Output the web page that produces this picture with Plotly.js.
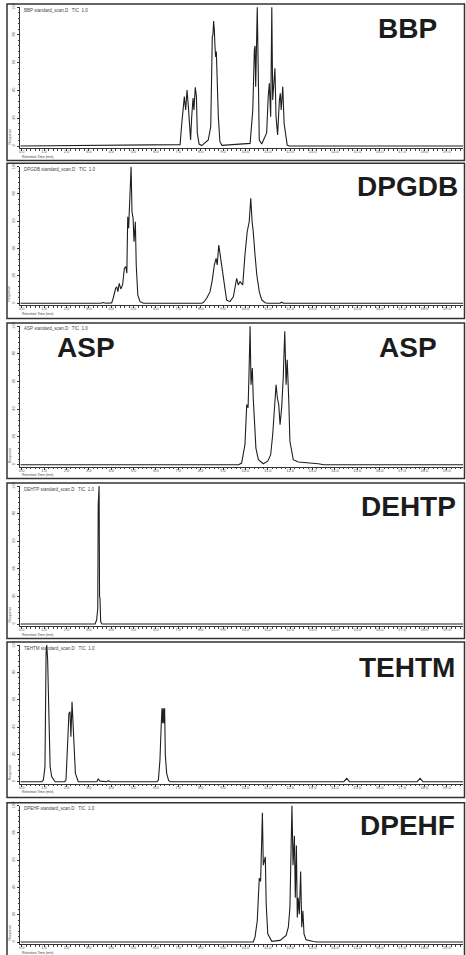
<!DOCTYPE html>
<html>
<head>
<meta charset="utf-8">
<script src="https://cdn.plot.ly/plotly-3.0.1.min.js"></script>
<style>
  html, body { margin: 0; padding: 0; background: #fff; }
  #chart { width: 466px; height: 955px; }
</style>
</head>
<body>
<div id="chart"></div>
<script>
// Six stacked chromatograms, one per plasticizer standard.
// x: retention time (axis units), y: relative response (% of tallest peak).

const names = ["BBP", "DPGDB", "ASP", "DEHTP", "TEHTM", "DPEHF"];
const headers = [
  "BBP standard_scan.D   TIC  1.0",
  "DPGDB standard_scan.D   TIC  1.0",
  "ASP standard_scan.D   TIC  1.0",
  "DEHTP standard_scan.D   TIC  1.0",
  "TEHTM standard_scan.D   TIC  1.0",
  "DPEHF standard_scan.D   TIC  1.0"
];
const tickLabels = ["0.0","1.0","2.0","3.0","4.0","5.0","6.0","7.0","8.0","9.0",
                    "10.0","11.0","12.0","13.0","14.0","15.0","16.0","17.0","18.0","19.0"];

const bbpX = [-0.05, 7.08, 7.15, 7.27, 7.33, 7.39, 7.45, 7.52, 7.55, 7.60, 7.66, 7.70, 7.76, 7.81, 7.85, 7.93, 8.05,
  8.34, 8.45, 8.52, 8.55, 8.58, 8.61, 8.64, 8.67, 8.70, 8.72, 8.75, 8.79, 8.86, 8.95,
  10.21, 10.33, 10.40, 10.43, 10.46, 10.49, 10.53, 10.58, 10.62, 10.73,
  10.95, 11.02, 11.07, 11.13, 11.18, 11.22, 11.28, 11.32, 11.37, 11.44, 11.52, 11.56, 11.60, 11.67, 11.73, 11.78, 11.87, 11.95, 19.75];
const bbpY = [0, 1.0, 15.1, 35.5, 25.9, 40.3, 28.3, 5.8, 4.3, 21.1, 34.5, 25.9, 42.2, 35.5, 9.4, 1.4, 0.3,
  4.3, 13.9, 78.6, 80.0, 89.9, 84.0, 71.4, 64.0, 68.0, 57.0, 45.0, 21.1, 3.1, 0.5,
  1.9, 25.9, 69.0, 72.0, 42.7, 60.0, 99.8, 47.5, 4.3, 1.4,
  9.4, 35.5, 45.1, 21.1, 99.8, 33.1, 49.9, 55.9, 21.1, 8.0, 33.1, 37.9, 25.9, 42.7, 16.3, 9.4, 0.7, 0, 0];

const dpgdbX = [-0.05, 3.55, 3.65, 3.75, 4.02, 4.09, 4.20, 4.25, 4.30, 4.36, 4.43, 4.51, 4.59, 4.66, 4.70, 4.74, 4.78, 4.84, 4.89, 4.93, 4.98, 5.02, 5.08, 5.12, 5.19, 5.29, 5.45,
  8.05, 8.12, 8.27, 8.42, 8.52, 8.61, 8.69, 8.74, 8.81, 8.86, 8.92, 8.99, 9.06, 9.16, 9.31,
  9.46, 9.61, 9.68, 9.76, 9.88, 9.98, 10.08, 10.17, 10.24, 10.30, 10.35, 10.43, 10.51, 10.62, 10.73, 10.88, 11.00,
  11.55, 11.62, 11.70, 19.75];
const dpgdbY = [0, 0, 0.6, 0, 0.3, 3.7, 11.0, 12.1, 8.5, 14.6, 10.5, 13.4, 25.6, 26.8, 22.0, 63.3, 54.8, 74.3, 99.9, 67.0, 62.1, 45.0, 59.6, 28.0, 6.1, 1.2, 0,
  0, 0.5, 3.7, 8.5, 17.0, 28.0, 32.9, 28.0, 42.6, 36.5, 28.0, 20.7, 11.0, 2.4, 1.2,
  4.8, 18.3, 13.4, 15.8, 13.4, 35.3, 52.3, 59.6, 76.8, 59.6, 52.3, 35.3, 20.7, 8.5, 2.4, 0.4, 0,
  0, 0.8, 0, 0];

const aspX = [-0.05, 9.70, 9.83, 9.98, 10.06, 10.12, 10.16, 10.21, 10.25, 10.31, 10.35, 10.40, 10.47, 10.58, 10.80,
  11.00, 11.13, 11.22, 11.29, 11.37, 11.43, 11.49, 11.55, 11.62, 11.69, 11.76, 11.82, 11.87, 11.94, 11.99, 12.14, 12.36, 13.26, 13.50, 19.75];
const aspY = [0, 0, 1.2, 14.4, 43.3, 41.0, 64.9, 99.8, 57.7, 69.7, 48.1, 33.7, 12.0, 3.6, 0.7,
  2.5, 7.2, 21.6, 37.3, 57.7, 48.1, 43.3, 28.8, 40.9, 62.5, 96.2, 57.7, 75.7, 45.7, 16.9, 3.6, 1.9, 0.7, 0, 0];

const dehtpX = [-0.05, 3.28, 3.35, 3.40, 3.42, 3.46, 3.48, 3.50, 3.53, 3.59, 19.75];
const dehtpY = [0, 0, 2.9, 11.4, 86.2, 100, 19.8, 18.6, 1.7, 0, 0];

const tehtmX = [-0.05, 0.90, 0.97, 1.04, 1.09, 1.12, 1.16, 1.19, 1.22, 1.27, 1.34, 1.49,
  1.92, 1.98, 2.06, 2.11, 2.16, 2.20, 2.25, 2.29, 2.34, 2.40, 2.53,
  3.36, 3.42, 3.50, 3.80, 3.87, 3.95,
  6.05, 6.11, 6.18, 6.24, 6.27, 6.30, 6.33, 6.36, 6.39, 6.42, 6.48, 6.57, 6.65,
  14.40, 14.53, 14.65, 17.68, 17.81, 17.93, 19.75];
const tehtmY = [0, 0, 1.2, 11.0, 93.9, 100, 89.0, 67.1, 42.7, 11.0, 3.7, 0,
  0, 1.2, 30.5, 50.0, 51.2, 32.9, 58.5, 42.7, 23.2, 6.1, 0,
  0, 2.0, 0.4, 0, 0.7, 0,
  0, 1.2, 15.9, 42.7, 53.7, 42.7, 53.7, 42.7, 53.7, 19.5, 6.1, 0.7, 0,
  0, 2.5, 0, 0, 2.5, 0, 0];

const dpehfX = [-0.05, 10.35, 10.43, 10.53, 10.62, 10.68, 10.73, 10.76, 10.80, 10.85, 10.89, 10.93, 11.00, 11.18,
  11.55, 11.82, 11.92, 11.99, 12.04, 12.08, 12.13, 12.19, 12.23, 12.28, 12.32, 12.36, 12.41, 12.47, 12.52, 12.57, 12.62, 12.71, 13.04, 13.20, 19.75];
const dpehfY = [0, 0, 3.6, 15.6, 46.8, 44.4, 75.5, 94.7, 56.3, 61.2, 62.4, 27.6, 6.0, 0.5,
  1.2, 4.8, 10.8, 25.2, 80.4, 100, 56.3, 77.9, 32.4, 70.7, 18.0, 32.4, 20.4, 51.6, 10.8, 22.8, 6.0, 1.7, 0.4, 0, 0];

const seriesX = [bbpX, dpgdbX, aspX, dehtpX, tehtmX, dpehfX];
const seriesY = [bbpY, dpgdbY, aspY, dehtpY, tehtmY, dpehfY];

// ---- page geometry (pixels) ----
const W = 466, H = 955;
const boxTop    = [4, 163.3, 323, 483, 642, 802.7];
const boxBottom = [160.5, 318.5, 478.5, 638.5, 797.5, 958];
const plotTop   = [7, 166.5, 326, 486, 645, 805.5];
const base      = [146, 303.3, 464.7, 624, 781.7, 942];
const plotLeft = 20, plotRight = 463;
const labelPos = [[407.5, 28.3], [407.5, 187], [407.5, 347], [408, 506], [406.7, 667.5], [407.5, 825.5]];

const px = v => v / W;
const py = v => 1 - v / H;
const xRange = [(plotLeft - 21.7) / 22.37, (plotRight - 21.7) / 22.37];

const data = [];
const layout = {
  width: W, height: H,
  margin: {l: 0, r: 0, t: 0, b: 0},
  paper_bgcolor: "#ffffff",
  plot_bgcolor: "#ffffff",
  showlegend: false,
  font: {family: "Liberation Sans, Arial, sans-serif", color: "#333"},
  shapes: [],
  annotations: []
};

for (let i = 0; i < 6; i++) {
  const k = i === 0 ? "" : String(i + 1);
  data.push({
    type: "scatter", mode: "lines",
    x: seriesX[i], y: seriesY[i],
    xaxis: "x" + k, yaxis: "y" + k,
    line: {color: "#1f1f1f", width: 1.1},
    hoverinfo: "skip"
  });
  const span = base[i] - plotTop[i];
  layout["xaxis" + k] = {
    domain: [px(plotLeft), px(plotRight)],
    anchor: "y" + k,
    range: xRange,
    showgrid: false, zeroline: false,
    showline: true, linecolor: "#333", linewidth: 1,
    ticks: "outside", ticklen: 2, tickcolor: "#333", tickwidth: 1,
    tickvals: tickLabels.map((t, j) => j),
    ticktext: tickLabels,
    tickfont: {size: 4, color: "#555"},
    ticklabelstandoff: -3,
    minor: {ticks: "outside", ticklen: 1.5, dtick: 0.2, tickcolor: "#444"}
  };
  layout["yaxis" + k] = {
    domain: [py(base[i] + 2), py(plotTop[i])],
    anchor: "x" + k,
    range: [-200 / span, 100],
    showgrid: false, zeroline: false,
    showline: true, linecolor: "#333", linewidth: 1,
    ticks: "outside", ticklen: 2, tickcolor: "#333",
    dtick: 20,
    tickangle: -90,
    tickfont: {size: 4, color: "#555"},
    minor: {ticks: "outside", ticklen: 1.5, dtick: 4, tickcolor: "#444"}
  };
  // panel frame
  layout.shapes.push({
    type: "rect", xref: "paper", yref: "paper",
    x0: px(7), x1: px(464.5), y0: py(boxBottom[i]), y1: py(boxTop[i]),
    line: {color: "#333", width: 1.5}
  });
  // compound name
  layout.annotations.push({
    xref: "paper", yref: "paper",
    x: px(labelPos[i][0]), y: py(labelPos[i][1]),
    xanchor: "center", yanchor: "middle",
    text: "<b>" + names[i] + "</b>", showarrow: false,
    font: {family: "Liberation Sans, Arial, sans-serif", size: 28, color: "#1c1c1c"}
  });
  // file header
  layout.annotations.push({
    xref: "paper", yref: "paper",
    x: px(22), y: py(plotTop[i] + 3),
    xanchor: "left", yanchor: "middle",
    text: headers[i], showarrow: false,
    font: {size: 4.5, color: "#444"}
  });
  // axis captions
  layout.annotations.push({
    xref: "paper", yref: "paper",
    x: px(20), y: py(base[i] + 10.6),
    xanchor: "left", yanchor: "middle",
    text: "Retention Time (min)", showarrow: false,
    font: {size: 3.4, color: "#444"}
  });
  layout.annotations.push({
    xref: "paper", yref: "paper",
    x: px(9.5), y: py(base[i] - 9),
    xanchor: "center", yanchor: "middle",
    textangle: -90,
    text: "Response", showarrow: false,
    font: {size: 3.5, color: "#444"}
  });
}

// second compound tag in the ASP panel
layout.annotations.push({
  xref: "paper", yref: "paper",
  x: px(86), y: py(347.5),
  xanchor: "center", yanchor: "middle",
  text: "<b>ASP</b>", showarrow: false,
  font: {family: "Liberation Sans, Arial, sans-serif", size: 28, color: "#1c1c1c"}
});

Plotly.newPlot("chart", data, layout, {staticPlot: true, displayModeBar: false});
</script>
</body>
</html>
